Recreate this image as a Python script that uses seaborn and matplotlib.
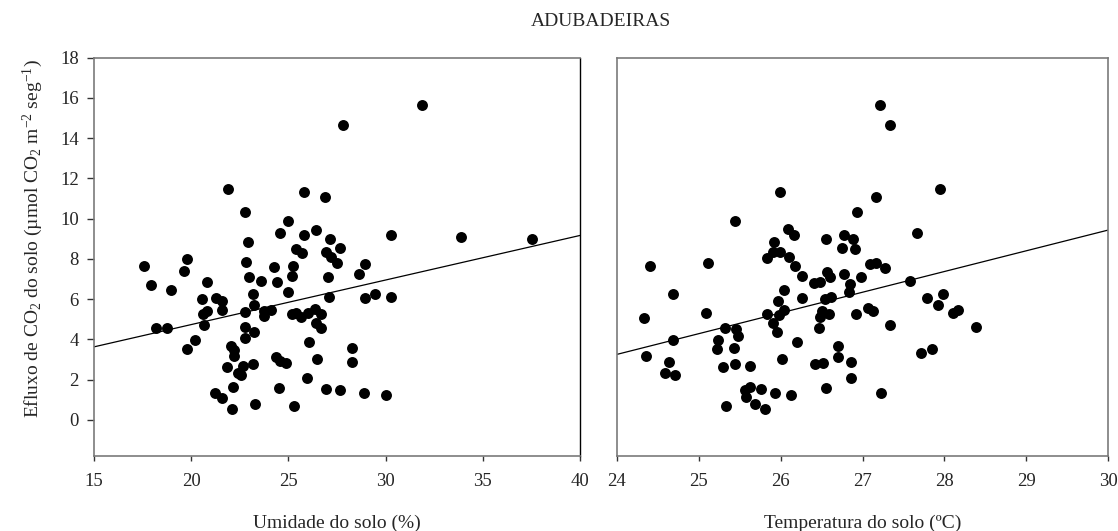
import matplotlib
matplotlib.use("Agg")
import matplotlib.pyplot as plt
import numpy as np
import pandas as pd
import seaborn as sns

# ---- data ----
umidade = [21.89, 25.81, 22.77, 25.0, 24.57, 25.81, 26.41, 22.92, 25.41, 25.69,
           19.79, 22.80, 17.56, 19.65, 22.96, 24.24, 25.22, 17.92, 18.98, 20.82,
           23.59, 24.40, 25.17, 20.58, 21.27, 21.60, 23.16, 24.97, 23.25, 20.62,
           20.82, 21.56, 22.75, 23.76, 23.76, 24.12, 25.21, 25.41, 25.65, 26.0,
           26.36, 26.44, 26.69, 20.67, 18.18, 18.74, 22.77, 22.77, 23.23, 20.17,
           19.76, 22.03, 22.18, 22.19, 26.08, 24.37, 24.59, 24.88, 23.16, 22.64,
           21.84, 22.42, 22.56, 26.47, 25.94, 22.16, 24.54, 21.22, 21.61, 23.30,
           22.10, 25.29, 31.89, 27.80, 26.87, 27.13, 30.27, 33.90, 37.53, 27.66,
           26.93, 27.17, 27.48, 28.92, 27.04, 28.63, 27.11, 28.93, 29.43, 30.26,
           26.69, 28.28, 28.28, 26.94, 27.68, 28.88, 30.0]
efluxo_umid = [11.46, 11.33, 10.33, 9.87, 9.26, 9.19, 9.45, 8.83, 8.50, 8.31,
               8.0, 7.82, 7.62, 7.37, 7.11, 7.57, 7.64, 6.71, 6.46, 6.83,
               6.91, 6.84, 7.12, 6.0, 6.06, 5.92, 6.23, 6.33, 5.68, 5.24,
               5.42, 5.45, 5.33, 5.40, 5.14, 5.45, 5.24, 5.32, 5.09, 5.31,
               5.52, 4.79, 4.56, 4.72, 4.54, 4.54, 4.63, 4.06, 4.36, 3.96,
               3.53, 3.68, 3.48, 3.15, 3.87, 3.14, 2.90, 2.84, 2.76, 2.66,
               2.61, 2.33, 2.23, 3.0, 2.08, 1.61, 1.60, 1.33, 1.10, 0.77,
               0.56, 0.66, 15.64, 14.64, 11.09, 8.99, 9.17, 9.09, 8.98, 8.51,
               8.35, 8.08, 7.79, 7.75, 7.07, 7.22, 6.11, 6.05, 6.25, 6.10,
               5.26, 3.57, 2.87, 1.53, 1.50, 1.32, 1.22]

temperatura = [25.99, 25.44, 26.93, 26.09, 26.16, 26.55, 26.78, 26.88, 26.75, 26.91,
               25.92, 25.91, 25.99, 26.10, 25.83, 25.11, 26.18, 26.26, 24.40, 26.41,
               26.48, 26.57, 26.60, 26.77, 26.85, 26.84, 24.69, 26.04, 25.97, 26.26,
               26.54, 26.61, 24.33, 25.09, 25.83, 25.98, 26.04, 26.50, 26.59, 26.48,
               26.92, 25.91, 25.95, 26.47, 25.32, 25.45, 25.48, 24.69, 25.23, 25.22,
               25.43, 24.35, 24.63, 24.59, 24.71, 25.30, 25.44, 25.62, 26.02, 26.20,
               26.42, 26.52, 26.70, 26.70, 26.86, 26.86, 26.55, 25.56, 25.63, 25.76,
               25.58, 25.93, 26.13, 25.69, 25.81, 25.33, 27.21, 27.34, 27.95, 27.16,
               27.67, 27.09, 27.17, 27.27, 26.98, 27.58, 27.79, 27.98, 27.92, 27.07,
               27.13, 28.11, 28.17, 27.33, 28.39, 27.71, 27.85, 27.23]
efluxo_temp = [11.33, 9.87, 10.33, 9.47, 9.18, 8.99, 9.18, 8.99, 8.51, 8.50,
               8.83, 8.33, 8.35, 8.08, 8.03, 7.79, 7.62, 7.12, 7.65, 6.81,
               6.84, 7.34, 7.07, 7.24, 6.73, 6.33, 6.25, 6.46, 5.92, 6.06,
               6.0, 6.11, 5.07, 5.30, 5.27, 5.22, 5.43, 5.42, 5.27, 5.09,
               5.24, 4.81, 4.38, 4.56, 4.56, 4.53, 4.14, 3.96, 3.96, 3.52,
               3.58, 3.15, 2.87, 2.34, 2.24, 2.60, 2.76, 2.66, 3.02, 3.85,
               2.77, 2.82, 3.67, 3.12, 2.89, 2.08, 1.60, 1.50, 1.61, 1.51,
               1.14, 1.32, 1.22, 0.79, 0.56, 0.67, 15.64, 14.64, 11.46, 11.09,
               9.26, 7.75, 7.79, 7.55, 7.07, 6.91, 6.06, 6.23, 5.68, 5.55,
               5.42, 5.30, 5.45, 4.72, 4.63, 3.32, 3.53, 1.33]

yticks = [0, 2, 4, 6, 8, 10, 12, 14, 16, 18]
xticks_umid = [15, 20, 25, 30, 35, 40]
xticks_temp = [24, 25, 26, 27, 28, 29, 30]

title = "ADUBADEIRAS"
ylabel = "Efluxo de CO$_2$ do solo (µmol CO$_2$ m$^{-2}$ seg$^{-1}$)"
xlabel_umid = "Umidade do solo (%)"
xlabel_temp = "Temperatura do solo (ºC)"

df_u = pd.DataFrame({"x": umidade, "y": efluxo_umid})
df_t = pd.DataFrame({"x": temperatura, "y": efluxo_temp})

sns.set_theme(style="white")
plt.rcParams["font.family"] = ["Liberation Serif", "DejaVu Serif"]
plt.rcParams["mathtext.fontset"] = "custom"
plt.rcParams["mathtext.rm"] = "Liberation Serif"
plt.rcParams["mathtext.it"] = "Liberation Serif:italic"
plt.rcParams["mathtext.bf"] = "Liberation Serif:bold"

W, H = 1118, 531
fig = plt.figure(figsize=(W / 100, H / 100), dpi=100)
fig.patch.set_facecolor("white")
ax1 = fig.add_axes([94 / W, 1 - 456 / H, 486 / W, 398.5 / H])
ax2 = fig.add_axes([617 / W, 1 - 456 / H, 491 / W, 398.5 / H])

FS_TICK = 13.5
FS_LAB = 14
spine_grey = "#7a7a7a"
YLIM = (-1.8, 18)

for ax, df, xl, xt, lim in [(ax1, df_u, xlabel_umid, xticks_umid, (15, 40)),
                            (ax2, df_t, xlabel_temp, xticks_temp, (24, 30))]:
    ax.set_xlim(*lim)
    ax.set_ylim(*YLIM)
    sns.scatterplot(data=df, x="x", y="y", ax=ax, color="black", s=62,
                    edgecolor="black", linewidth=0, zorder=3)
    sns.regplot(data=df, x="x", y="y", ax=ax, scatter=False, ci=None,
                truncate=False, color="black", line_kws=dict(lw=0.9))
    ax.set_xlim(*lim)
    ax.set_ylim(*YLIM)
    ax.set_xticks(xt)
    ax.set_xticklabels([str(v) for v in xt], fontsize=FS_TICK)
    ax.set_xlabel(xl, fontsize=FS_LAB, labelpad=17.5)
    for s in ax.spines.values():
        s.set_visible(True)
        s.set_color(spine_grey)
        s.set_linewidth(1.2)
    ax.tick_params(axis="x", direction="out", length=3.6, width=1,
                   color="#333333", pad=9, bottom=True)
    ax.set_facecolor("white")
    ax.grid(False)

ax1.spines["right"].set_color("black")
ax1.spines["right"].set_linewidth(1.0)
ax1.set_yticks(yticks)
ax1.set_yticklabels([str(v) for v in yticks], fontsize=FS_TICK)
ax1.tick_params(axis="y", direction="out", length=5, width=1,
                color="#333333", pad=6, left=True)
ax1.set_ylabel(ylabel, fontsize=FS_LAB)
# label centred on the 0..18 range of the axis
ax1.yaxis.set_label_coords(-(94 - 45) / 486, (9 - YLIM[0]) / (YLIM[1] - YLIM[0]))

ax2.set_yticks([])
ax2.set_ylabel("")

fig.text(601 / W, 1 - 22 / H, title, ha="center", va="center", fontsize=14)

fig.savefig("out.png", dpi=100, facecolor="white")
